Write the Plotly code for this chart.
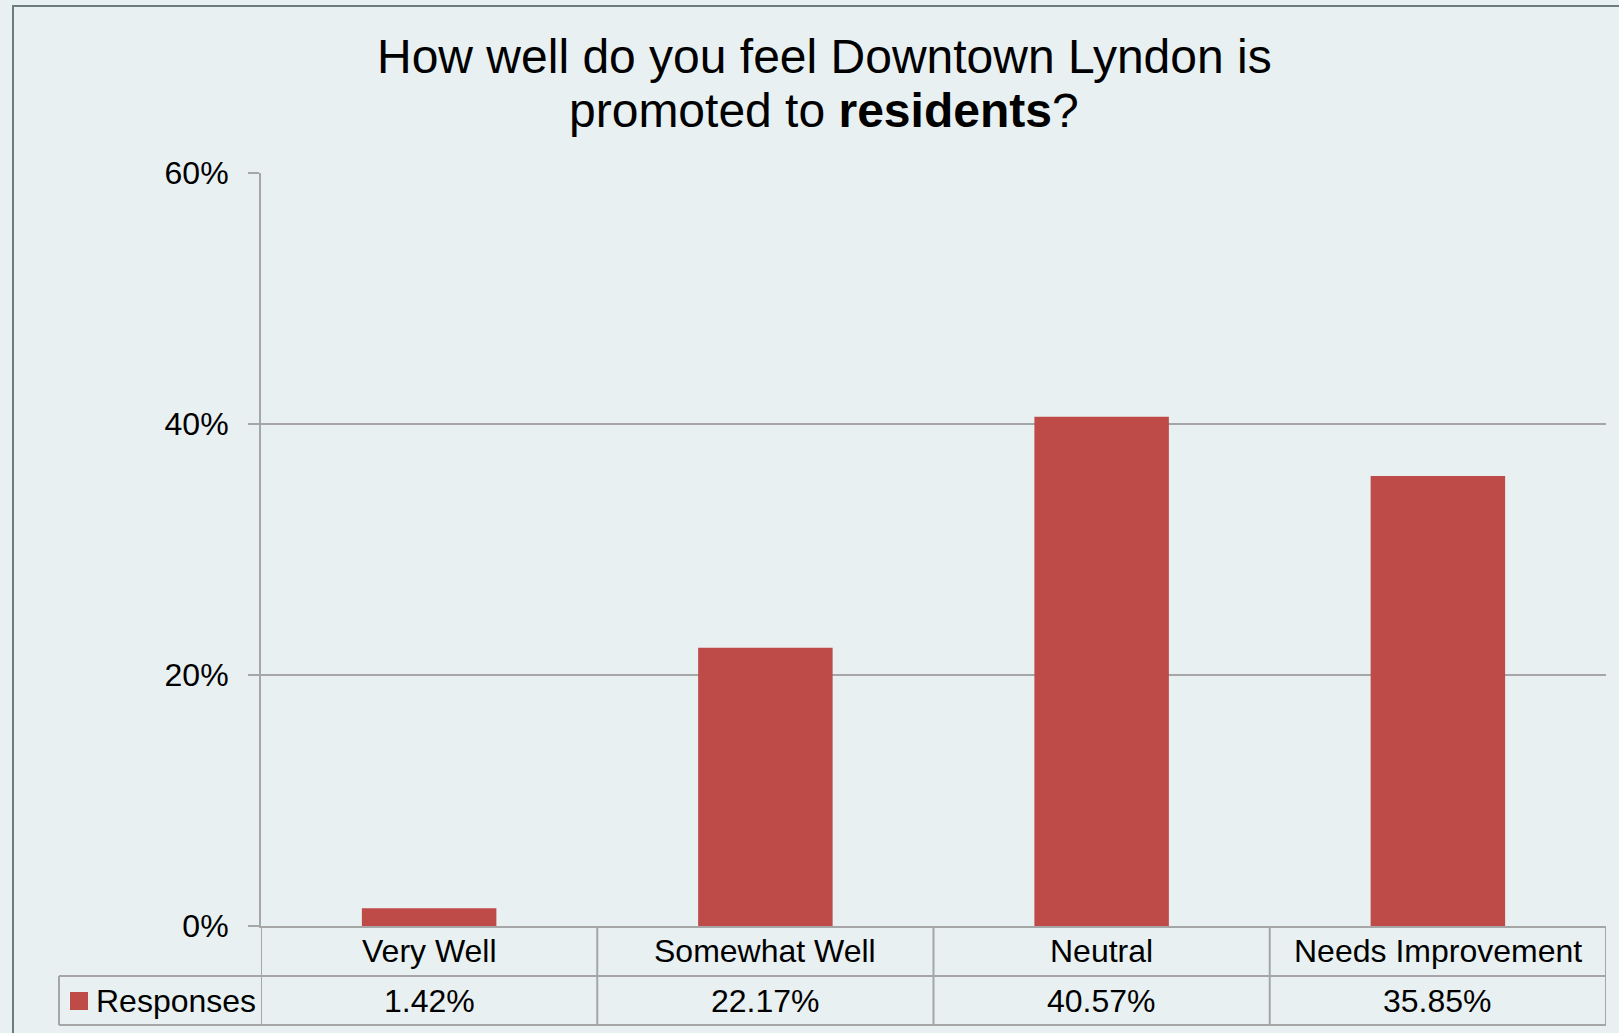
import plotly.graph_objects as go

categories = ["Very Well", "Somewhat Well", "Neutral", "Needs Improvement"]
responses = [0.0142, 0.2217, 0.4057, 0.3585]
series_name = "Responses"
y_ticks = [0, 0.2, 0.4, 0.6]
title_line1 = "How well do you feel Downtown Lyndon is"
title_line2 = "promoted to <b>residents</b>?"

W, H = 1619, 1033
L, R, T, B = 261, 13, 173, 107
PW, PH = W - L - R, H - T - B
BG = "#e8f0f1"
BAR = "#be4b48"
GRID = "#a6a6a6"
FONT = "Liberation Sans, Arial, sans-serif"
FS = 32


def px_x(px):
    return (px - L) / PW


def px_y(py):
    return (H - B - py) / PH


fig = go.Figure()
fig.add_trace(go.Bar(x=categories, y=responses, name=series_name,
                     marker=dict(color=BAR, line=dict(width=0)),
                     showlegend=False, hoverinfo="skip"))

row1_mid = px_y(951)
row2_mid = px_y(1001)
row1_bot = px_y(976)
row2_bot = px_y(1025)

shapes = []
# vertical table lines at category boundaries
for k in range(len(categories) + 1):
    shapes.append(dict(type="line", xref="x", yref="paper", x0=k - 0.5, x1=k - 0.5,
                       y0=0, y1=row2_bot, line=dict(color=GRID, width=2)))
# horizontal table lines
for yy in (row1_bot, row2_bot):
    shapes.append(dict(type="line", xref="paper", yref="paper", x0=px_x(59), x1=1,
                       y0=yy, y1=yy, line=dict(color=GRID, width=2)))
# left edge of legend cell
shapes.append(dict(type="line", xref="paper", yref="paper", x0=px_x(59), x1=px_x(59),
                   y0=row1_bot, y1=row2_bot, line=dict(color=GRID, width=2)))
# legend key
shapes.append(dict(type="rect", xref="paper", yref="paper", x0=px_x(70), x1=px_x(88),
                   y0=px_y(992), y1=px_y(1010), fillcolor=BAR, line=dict(width=0)))
# outer frame
shapes.append(dict(type="rect", xref="paper", yref="paper", x0=px_x(13), x1=px_x(1640),
                   y0=px_y(1050), y1=px_y(6), line=dict(color="#6b7d7e", width=2),
                   fillcolor="rgba(0,0,0,0)", layer="below"))

annotations = []
for c, v in zip(categories, responses):
    annotations.append(dict(x=c, xref="x", yref="paper", y=row1_mid, text=c,
                            showarrow=False, yanchor="middle", xanchor="center",
                            font=dict(size=FS, color="black", family=FONT)))
    annotations.append(dict(x=c, xref="x", yref="paper", y=row2_mid, text=f"{v*100:.2f}%",
                            showarrow=False, yanchor="middle", xanchor="center",
                            font=dict(size=FS, color="black", family=FONT)))
annotations.append(dict(x=px_x(94), xref="paper", yref="paper", y=row2_mid, text=series_name,
                        showarrow=False, yanchor="middle", xanchor="left",
                        font=dict(size=FS, color="black", family=FONT)))
annotations.append(dict(x=px_x(824), xref="paper", yref="paper", y=px_y(57), text=title_line1,
                        showarrow=False, yanchor="middle", xanchor="center",
                        font=dict(size=48, color="black", family=FONT)))
annotations.append(dict(x=px_x(824), xref="paper", yref="paper", y=px_y(110), text=title_line2,
                        showarrow=False, yanchor="middle", xanchor="center",
                        font=dict(size=48, color="black", family=FONT)))

fig.update_layout(
    width=W, height=H,
    margin=dict(l=L, r=R, t=T, b=B, pad=0),
    paper_bgcolor=BG, plot_bgcolor=BG,
    bargap=0.6,
    shapes=shapes, annotations=annotations,
    font=dict(family=FONT, size=FS, color="black"),
    xaxis=dict(range=[-0.5, len(categories) - 0.5], showticklabels=False, ticks="",
               showgrid=False, zeroline=False, showline=True, linecolor=GRID, linewidth=2),
    yaxis=dict(range=[0, 0.6], tickvals=y_ticks, tickformat=".0%", ticks="outside",
               ticklen=11, tickcolor=GRID, tickwidth=2, showline=True, linecolor=GRID,
               linewidth=2, gridcolor=GRID, gridwidth=2, zeroline=False,
               ticklabelstandoff=13, tickfont=dict(size=FS, color="black", family=FONT)),
)

fig.write_html("out.html", config={"displayModeBar": False},
               post_script="document.body.style.margin='0';document.body.style.overflow='hidden';")
